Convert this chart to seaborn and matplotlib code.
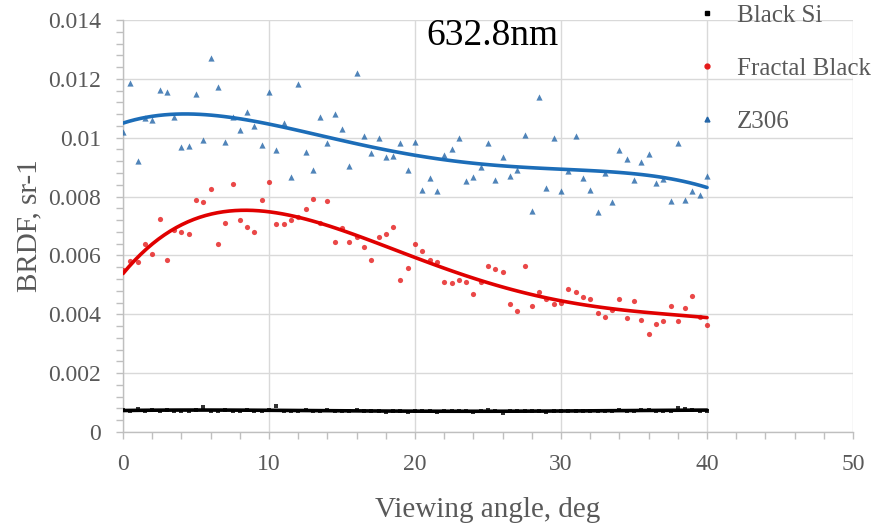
import numpy as np
import pandas as pd
import seaborn as sns
import matplotlib.pyplot as plt
from matplotlib.ticker import MultipleLocator, FuncFormatter
from matplotlib.lines import Line2D

# viewing angle grid, 0.5 deg steps from 0 to 40
angle = np.arange(0, 40.5, 0.5)

black_si = [0.00076, 0.00072, 0.00078, 0.00071, 0.00074, 0.00072, 0.00076, 0.00071, 0.00070, 0.00073,
            0.00074, 0.00086, 0.00072, 0.00071, 0.00074, 0.00070, 0.00073, 0.00075, 0.00071, 0.00073,
            0.00074, 0.00088, 0.00072, 0.00073, 0.00071, 0.00075, 0.00072, 0.00071, 0.00076, 0.00072,
            0.00073, 0.00071, 0.00075, 0.00070, 0.00072, 0.00070, 0.00067, 0.00070, 0.00073, 0.00068,
            0.00071, 0.00070, 0.00072, 0.00069, 0.00070, 0.00071, 0.00070, 0.00072, 0.00069, 0.00071,
            0.00075, 0.00070, 0.00066, 0.00071, 0.00073, 0.00070, 0.00071, 0.00073, 0.00068, 0.00071,
            0.00072, 0.00071, 0.00072, 0.00070, 0.00073, 0.00072, 0.00072, 0.00073, 0.00074, 0.00071,
            0.00073, 0.00074, 0.00075, 0.00071, 0.00072, 0.00070, 0.00082, 0.00078, 0.00074, 0.00071,
            0.00072]

fractal_black = [0.00549, 0.00582, 0.00576, 0.00640, 0.00606, 0.00725, 0.00586, 0.00687, 0.00681, 0.00672,
                 0.00788, 0.00782, 0.00825, 0.00640, 0.00711, 0.00844, 0.00720, 0.00696, 0.00678, 0.00788,
                 0.00850, 0.00707, 0.00707, 0.00720, 0.00732, 0.00758, 0.00792, 0.00711, 0.00785, 0.00645,
                 0.00692, 0.00645, 0.00664, 0.00630, 0.00583, 0.00663, 0.00672, 0.00696, 0.00516, 0.00558,
                 0.00640, 0.00616, 0.00583, 0.00577, 0.00511, 0.00506, 0.00516, 0.00511, 0.00468, 0.00511,
                 0.00563, 0.00554, 0.00545, 0.00435, 0.00410, 0.00563, 0.00429, 0.00477, 0.00453, 0.00434,
                 0.00440, 0.00487, 0.00477, 0.00458, 0.00453, 0.00404, 0.00391, 0.00416, 0.00453, 0.00387,
                 0.00445, 0.00382, 0.00334, 0.00367, 0.00376, 0.00429, 0.00376, 0.00420, 0.00463, 0.00391,
                 0.00363]

z306 = [0.01020, 0.01185, 0.00920, 0.01068, 0.01060, 0.01163, 0.01154, 0.01071, 0.00967, 0.00972,
        0.01148, 0.00991, 0.01272, 0.01172, 0.00986, 0.01072, 0.01025, 0.01087, 0.01040, 0.00976,
        0.01154, 0.00958, 0.01049, 0.00867, 0.01182, 0.00953, 0.00890, 0.01071, 0.00981, 0.01082,
        0.01028, 0.00905, 0.01220, 0.01005, 0.00948, 0.01000, 0.00934, 0.00939, 0.00982, 0.00891,
        0.00986, 0.00824, 0.00863, 0.00819, 0.00942, 0.00962, 0.01000, 0.00853, 0.00867, 0.00901,
        0.00982, 0.00858, 0.00934, 0.00871, 0.00890, 0.01009, 0.00751, 0.01138, 0.00828, 0.01000,
        0.00819, 0.00886, 0.01005, 0.00862, 0.00824, 0.00747, 0.00881, 0.00781, 0.00957, 0.00929,
        0.00858, 0.00919, 0.00943, 0.00847, 0.00860, 0.00785, 0.00981, 0.00790, 0.00819, 0.00804,
        0.00871]

labels = ['Black Si', 'Fractal Black', 'Z306']

df = pd.DataFrame({'angle': np.tile(angle, 3),
                   'brdf': black_si + fractal_black + z306,
                   'sample': np.repeat(labels, len(angle))})

# marker / trendline style and polynomial order per sample
styles = {
    'Black Si': dict(marker='s', mc='#000000', lc='#000000', s=12, order=4),
    'Fractal Black': dict(marker='o', mc='#E51A1A', lc='#E00000', s=14, order=5),
    'Z306': dict(marker='^', mc='#2466A8', lc='#1C6DB8', s=20, order=4),
}

sns.set_theme(style="whitegrid")
plt.rcParams['font.family'] = ['Liberation Serif', 'DejaVu Serif']
grey_txt = '#595959'

fig = plt.figure(figsize=(8.75, 5.24), dpi=100)
ax = fig.add_axes([0.1406, 0.1756, 0.8343, 0.7862])

for name in labels:
    st = styles[name]
    sub = df[df['sample'] == name]
    sns.regplot(data=sub, x='angle', y='brdf', order=st['order'], ci=None, ax=ax,
                marker=st['marker'],
                scatter_kws=dict(s=st['s'], color=st['mc'], linewidths=0, zorder=3),
                line_kws=dict(color=st['lc'], lw=2.6, zorder=4))

ax.set_xlim(0, 50)
ax.set_ylim(0, 0.014)
ax.xaxis.set_major_locator(MultipleLocator(10))
ax.xaxis.set_minor_locator(MultipleLocator(2))
ax.yaxis.set_major_locator(MultipleLocator(0.002))
ax.yaxis.set_minor_locator(MultipleLocator(0.0004))
ax.yaxis.set_major_formatter(FuncFormatter(lambda v, p: '{:g}'.format(round(v, 6))))

ax.grid(True, which='major', color='#D9D9D9', lw=1)
ax.grid(False, which='minor')
for side in ['top', 'right']:
    ax.spines[side].set_visible(False)
for side in ['left', 'bottom']:
    ax.spines[side].set_color('#BFBFBF')
    ax.spines[side].set_linewidth(1)

ax.tick_params(which='both', direction='out', color='#BFBFBF', width=1, length=5,
               left=True, bottom=True)
ax.tick_params(which='major', labelsize=17, labelcolor=grey_txt, pad=11)

ax.set_xlabel('Viewing angle, deg', fontsize=21, color=grey_txt, labelpad=16)
ax.set_ylabel('BRDF, sr-1', fontsize=21, color=grey_txt, labelpad=4)

ax.text(25.3, 0.01345, '632.8nm', fontsize=27, color='black', ha='center', va='center')

handles = [Line2D([], [], ls='none', marker=styles[n]['marker'], color=styles[n]['mc'],
                  markersize=3.5) for n in labels]
leg = ax.legend(handles, labels, loc='upper left', bbox_to_anchor=(0.791, 0.996),
                bbox_transform=fig.transFigure, frameon=False, fontsize=18,
                labelspacing=1.22, handlelength=1.0, handletextpad=0.7,
                borderpad=0.1, borderaxespad=0)
for t in leg.get_texts():
    t.set_color(grey_txt)

fig.savefig('out.png', dpi=100)
